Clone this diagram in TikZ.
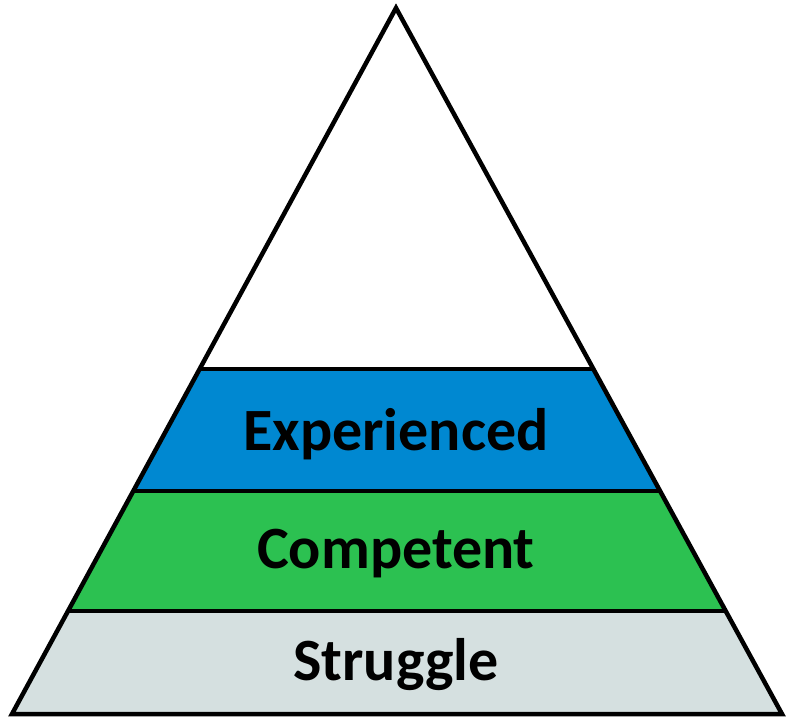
\documentclass[tikz,border=0pt]{standalone}
\usepackage{fontspec}
\setmainfont{Carlito}
\usetikzlibrary{calc}
\definecolor{expblue}{HTML}{0088D1}
\definecolor{compgreen}{HTML}{2CC151}
\definecolor{strugglegrey}{HTML}{D5E0E0}
\begin{document}
\begin{tikzpicture}[x=1pt,y=-1pt,
    edge/.style={draw=black,line width=4.5pt,line join=miter},
    level/.style={font=\fontsize{60}{66}\selectfont\bfseries}]
    \useasboundingbox (0,0) rectangle (794,725);
    \coordinate (top) at (396,8);
    \coordinate (bl) at (12,714);
    \coordinate (br) at (782,714);

    % band boundaries along the two sides
    \coordinate (l1) at ($(top)!0.5113!(bl)$);
    \coordinate (r1) at ($(top)!0.5113!(br)$);
    \coordinate (l2) at ($(top)!0.6841!(bl)$);
    \coordinate (r2) at ($(top)!0.6841!(br)$);
    \coordinate (l3) at ($(top)!0.8541!(bl)$);
    \coordinate (r3) at ($(top)!0.8541!(br)$);

    \fill[expblue] (l1) -- (r1) -- (r2) -- (l2) -- cycle;
    \fill[compgreen] (l2) -- (r2) -- (r3) -- (l3) -- cycle;
    \fill[strugglegrey] (l3) -- (r3) -- (br) -- (bl) -- cycle;

    \draw[edge] (l1) -- (r1);
    \draw[edge] (l2) -- (r2);
    \draw[edge] (l3) -- (r3);
    \draw[edge] (top) -- (br) -- (bl) -- cycle;

    \node[level] (experienced) at (396,434) {Experienced};
    \node[level] (competent) at (396,554) {Competent};
    \node[level] (struggle) at (396,665) {Struggle};
\end{tikzpicture}
\end{document}
